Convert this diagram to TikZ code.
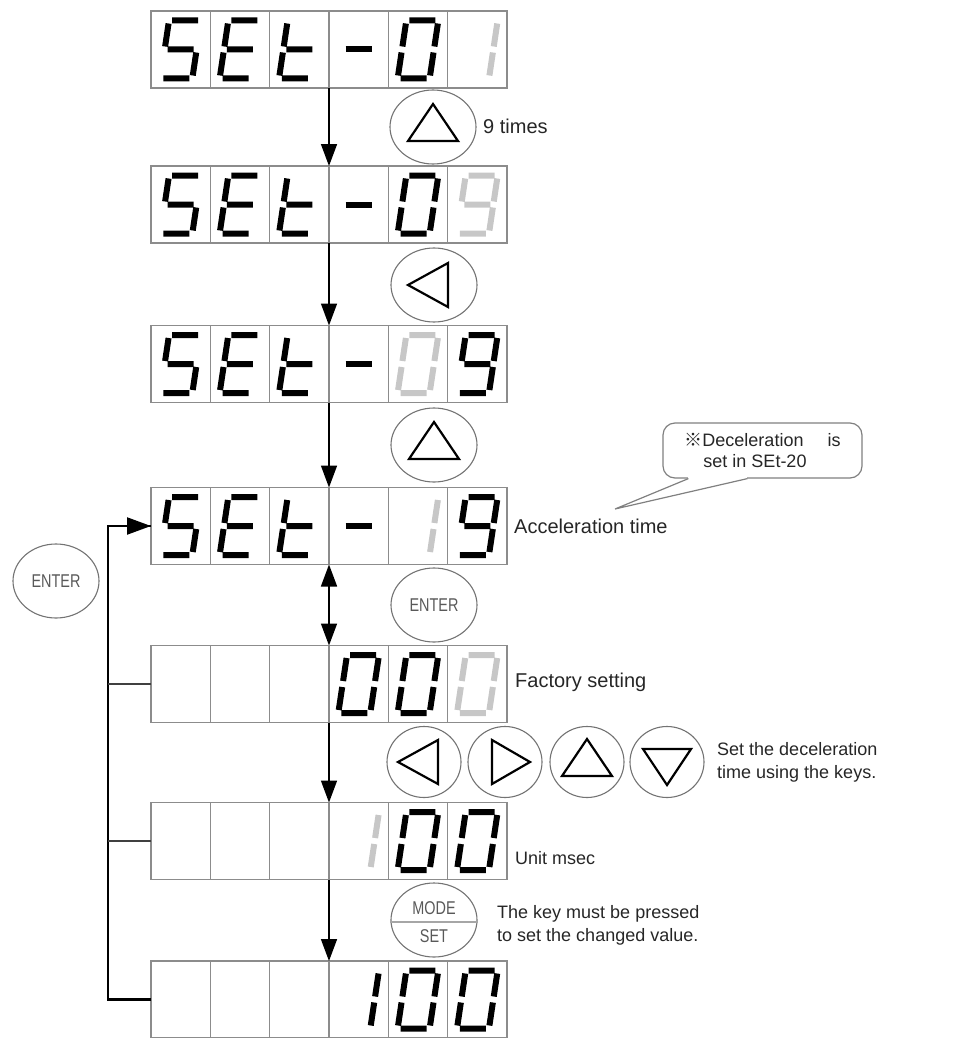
\documentclass[tikz,border=0pt]{standalone}
\usepackage{fontspec}
\setmainfont{Liberation Sans}
\newfontfamily\keyfont[FakeStretch=0.78]{Liberation Sans}
\newfontfamily\cjk{Noto Sans CJK SC}
\usetikzlibrary{arrows.meta, calc, shapes.geometric}

%% segments of one seven-segment digit (local coordinates, y downwards)
\def\sega{(-13,-29) -- (13,-29)}
\def\segb{(16,-26) -- (16,-3)}
\def\segc{(16,3) -- (16,26)}
\def\segd{(-13,29) -- (13,29)}
\def\sege{(-16,3) -- (-16,26)}
\def\segf{(-16,-26) -- (-16,-3)}
\def\segg{(-13,0) -- (13,0)}
%% characters
\def\lcdS{\sega\segf\segg\segc\segd}
\def\lcdE{\sega\segf\segg\sege\segd}
\def\lcdt{\segf\sege\segg\segd}
\def\lcdm{\segg}
\def\lcdo{\sega\segb\segc\segd\sege\segf}
\def\lcdi{\segb\segc}
\def\lcdn{\sega\segb\segc\segd\segf\segg}

\tikzset{
  display/.style={
    draw=black!45,
    line width=1.4pt,
    minimum width=356pt,
    minimum height=77pt,
    inner sep=0pt,
    outer sep=0pt
  },
  cellsep/.style={
    draw=black!45,
    line width=1.2pt
  },
  lcdseg/.style={
    line width=6pt
  },
  pics/lcd/.style={
    code={
      \begin{scope}[xslant=0.15]
        \draw[lcdseg] \csname lcd#1\endcsname;
      \end{scope}
    }
  },
  flow/.style={
    draw=black,
    line width=1.6pt,
    -{Triangle[length=22pt, width=16pt]}
  },
  back/.style={
    draw=black!75,
    line width=2.2pt
  },
  key/.style={
    ellipse,
    draw=black!55,
    line width=1.1pt,
    minimum width=86pt,
    minimum height=74pt,
    inner sep=0pt,
    font=\keyfont\fontsize{18.5}{20}\selectfont,
    text=black!65
  },
  small key/.style={
    key,
    minimum width=74pt,
    minimum height=71pt
  },
  keytri/.style={
    draw=black,
    line width=2.2pt,
    line join=miter
  },
  pics/tri up/.style={code={\draw[keytri] (0,-23) -- (25,14) -- (-25,14) -- cycle;}},
  pics/tri down/.style={code={\draw[keytri] (0,23) -- (24,-13) -- (-24,-13) -- cycle;}},
  pics/tri left/.style={code={\draw[keytri] (-26,0) -- (14,-22) -- (14,22) -- cycle;}},
  pics/tri right/.style={code={\draw[keytri] (25,0) -- (-13,-22) -- (-13,22) -- cycle;}},
  label/.style={
    font=\fontsize{18}{23}\selectfont,
    text=black!85,
    inner sep=0pt,
    anchor=west,
    align=left
  },
  big label/.style={
    label,
    font=\fontsize{20}{23}\selectfont
  },
  note/.style={
    draw=black!50,
    line width=1.2pt,
    rounded corners=12pt,
    minimum width=199pt,
    minimum height=55pt,
    font=\fontsize{18}{21}\selectfont,
    text=black!85,
    align=left,
    fill=white
  }
}

%% one display row: name, y, list of cell/char/colour
\newcommand{\lcdrow}[3]{%
  \node[display] (#1) at (329,#2) {};
  \foreach \k in {1,...,5}
    \draw[cellsep] ($(#1.north west)+(\k*59.33,0)$) -- ($(#1.south west)+(\k*59.33,0)$);
  \foreach \c/\ch/\col in {#3}
    \pic[\col] at ($(#1.west)+(\c*59.33-29.67,0)$) {lcd=\ch};
}

\begin{document}
\begin{tikzpicture}[x=1pt, y=-1pt]
  \useasboundingbox (0,0) rectangle (971,1038);

  %% ---- display rows ----
  \lcdrow{r1}{49.5}{1/S/black, 2/E/black, 3/t/black, 4/m/black, 5/o/black, 6/i/black!22}
  \lcdrow{r2}{204.5}{1/S/black, 2/E/black, 3/t/black, 4/m/black, 5/o/black, 6/n/black!22}
  \lcdrow{r3}{364}{1/S/black, 2/E/black, 3/t/black, 4/m/black, 5/o/black!22, 6/n/black}
  \lcdrow{r4}{526}{1/S/black, 2/E/black, 3/t/black, 4/m/black, 5/i/black!22, 6/n/black}
  \lcdrow{r5}{684}{4/o/black, 5/o/black, 6/o/black!22}
  \lcdrow{r6}{841}{4/i/black!22, 5/o/black, 6/o/black}
  \lcdrow{r7}{999.5}{4/i/black, 5/o/black, 6/o/black}

  %% ---- flow between rows ----
  \draw[flow] (r1) -- (r2);
  \draw[flow] (r2) -- (r3);
  \draw[flow] (r3) -- (r4);
  \draw[flow, {Triangle[length=22pt, width=16pt]}-{Triangle[length=22pt, width=16pt]}] (r4) -- (r5);
  \draw[flow] (r5) -- (r6);
  \draw[flow] (r6) -- (r7);

  %% ---- return line (ENTER) ----
  \coordinate (fb) at (108,1000);
  \draw[back] (r7.west) -- (r7.west -| fb) |- (r4.west)
    [-{Triangle[length=24pt, width=17pt]}, draw=black] ($(r4.west)+(-44,0)$) -- (r4.west);
  \draw[back] (r5.west) -- (r5.west -| fb);
  \draw[back] (r6.west) -- (r6.west -| fb);
  \node[key] (kEnterBack) at (56,581) {ENTER};

  %% ---- keys ----
  \node[key] (kUpA) at (433,127) {};
  \pic at (kUpA) {tri up};
  \node[key] (kLeftA) at (434,285) {};
  \pic at (kLeftA) {tri left};
  \node[key] (kUpB) at (434,445) {};
  \pic at (kUpB) {tri up};
  \node[key] (kEnter) at (434,605) {ENTER};

  \node[small key] (kL) at (424,762) {};
  \pic at (kL) {tri left};
  \node[small key] (kR) at (505,762) {};
  \pic at (kR) {tri right};
  \node[small key] (kU) at (587,762) {};
  \pic at (kU) {tri up};
  \node[small key] (kD) at (667,762) {};
  \pic at (kD) {tri down};

  \node[key] (kMode) at (434,920) {};
  \draw[black!35, line width=2.5pt] ($(kMode.west)+(0,2)$) -- ($(kMode.east)+(0,2)$);
  \node[key, draw=none, minimum size=0pt] (tModeKey) at ($(kMode)+(0,-12)$) {MODE};
  \node[key, draw=none, minimum size=0pt] (tSetKey) at ($(kMode)+(0,16)$) {SET};

  %% ---- texts ----
  \node[big label] (tNine) at (483,126) {9 times};
  \node[big label] (tAcc) at (514,526) {Acceleration time};
  \node[big label] (tFac) at (515,682) {Factory setting};
  \node[label] (tKeys) at (717,762) {Set the deceleration\\time using the keys.};
  \node[label] (tUnit) at (515,858) {Unit msec};
  \node[label] (tMode) at (497,925) {The key must be pressed\\to set the changed value.};

  %% ---- callout ----
  \node[note] (note) at (762.5,450.5)
    {{\cjk ※}Deceleration\hspace{24pt}is\\\hspace*{19pt}set in SEt-20};
  \coordinate (tip) at (615,509);
  \coordinate (p1) at ($(note.south west)+(26,0)$);
  \coordinate (p2) at ($(note.south west)+(85,0)$);
  \fill[white] (p1) -- (tip) -- (p2) -- cycle;
  \draw[white, line width=2.5pt] (p1) -- (p2);
  \draw[draw=black!50, line width=1.2pt] (p1) -- (tip) -- (p2);

\end{tikzpicture}
\end{document}
